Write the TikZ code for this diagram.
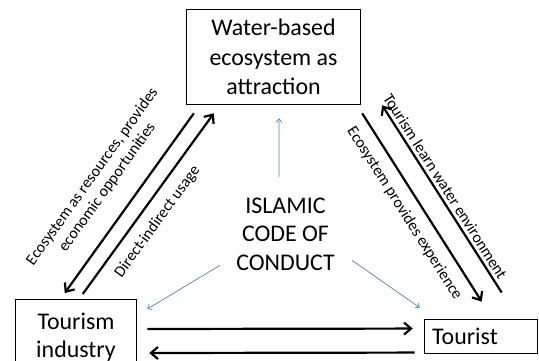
\documentclass[tikz,border=0pt]{standalone}
\usepackage{fontspec}
\setmainfont{Carlito}
\usetikzlibrary{arrows.meta,positioning}
\definecolor{linkblue}{RGB}{79,129,189}
\tikzset{
  box/.style={draw, line width=1bp, align=center, inner sep=0pt,
    font=\fontsize{24}{29.5}\selectfont},
  flow/.style={line width=2.2bp, -{Straight Barb[length=7bp,width=12bp]}},
  hint/.style={draw=linkblue, line width=0.7bp, -{Straight Barb[length=3.5bp,width=6bp]}},
  lbl/.style={font=\fontsize{16}{18.5}\selectfont, sloped, align=center, inner sep=0pt},
}
\begin{document}
\begin{tikzpicture}[x=1bp, y=1bp]%
    \useasboundingbox (0, 0) rectangle (539, 360);
    \node[box, minimum width=175, minimum height=96]
      (eco) at (273.5, 303) {Water-based\\ecosystem as\\attraction};
    \node[box, minimum width=122, minimum height=76, anchor=north,
      font=\fontsize{24}{28}\selectfont]
      (ind) at (76, 61) {Tourism\\industry};
    \node[box, minimum width=114, minimum height=35, text width=98, align=left]
      (tour) at (481, 23.5) {Tourist};
    \node[align=center, inner sep=0pt, font=\fontsize{24}{29}\selectfont]
      (code) at (285.5, 125.7) {ISLAMIC\\CODE OF\\CONDUCT};

    \draw[flow] ([shift={(8,-8)}]eco.south west) -- ([shift={(50,6)}]ind.north west)
      node[lbl, pos=0.5, above=19bp] {Ecosystem as resources, provides\\economic opportunities};
    \draw[flow] ([shift={(68,5)}]ind.north west) -- ([shift={(28,-8)}]eco.south west)
      node[lbl, pos=0.46, below=10bp] {Direct-indirect usage};
    \draw[flow] ([shift={(1,-8)}]eco.south east) -- ([shift={(58,17)}]tour.north west)
      node[lbl, pos=0.48, below=10bp] {Ecosystem provides experience};
    \draw[flow] ([shift={(78,26)}]tour.north west) -- ([shift={(21,0)}]eco.south east)
      node[lbl, pos=0.54, above=3bp] {Tourism learn water environment};
    \draw[flow] ([shift={(10,-30)}]ind.north east) -- ([shift={(-11,-10)}]tour.north west);
    \draw[flow] ([shift={(-9,-34)}]tour.north west) -- ([shift={(12,-54)}]ind.north east);

    \draw[hint] ([shift={(-6.5,20.5)}]code.north) -- ([shift={(5.5,-13)}]eco.south);
    \draw[hint] ([shift={(-16,6)}]code.south west) -- ([shift={(10,-10)}]ind.north east);
    \draw[hint] ([shift={(17,11)}]code.south east) -- ([shift={(-4,11)}]tour.north west);
  \end{tikzpicture}
\end{document}
